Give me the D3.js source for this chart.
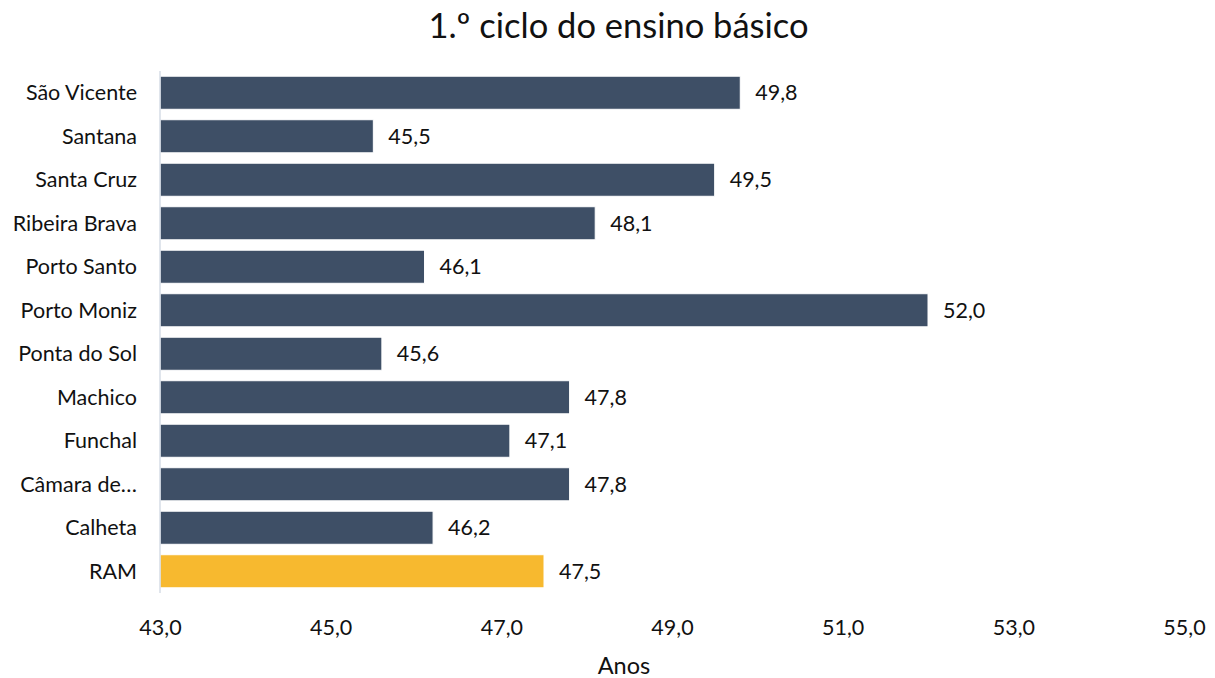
<!DOCTYPE html>
<html lang="pt">
<head>
<meta charset="UTF-8">
<title>1.º ciclo do ensino básico</title>
<script src="https://d3js.org/d3.v7.min.js"></script>
<style>
  body { margin: 0; background: #fff; }
  svg { font-family: Lato, "Open Sans", sans-serif; }
</style>
</head>
<body>
<svg id="chart" width="1215" height="678"></svg>
<script>
// data (top to bottom)
const municipios = ["São Vicente", "Santana", "Santa Cruz", "Ribeira Brava", "Porto Santo",
  "Porto Moniz", "Ponta do Sol", "Machico", "Funchal", "Câmara de…", "Calheta", "RAM"];
const idades = [49.8, 45.5, 49.5, 48.1, 46.1, 52.0, 45.6, 47.8, 47.1, 47.8, 46.2, 47.5];
const xTicks = [43, 45, 47, 49, 51, 53, 55];

const width = 1215, height = 678;
const margin = {left: 160, right: 31, top: 71, bottom: 85};
const fs = 21.5;

const svg = d3.select("#chart");
const fmt = d => d.toFixed(1).replace(".", ",");

const x = d3.scaleLinear().domain([43, 55]).range([margin.left, width - margin.right]);
const y = d3.scaleBand().domain(municipios).range([margin.top, height - margin.bottom]).paddingInner(0.24).paddingOuter(0.12);

svg.append("text")
  .attr("x", width / 2 + 11).attr("y", 38)
  .attr("text-anchor", "middle")
  .attr("font-size", 34.5)
  .attr("fill", "#111")
  .text("1.º ciclo do ensino básico");

// bars
svg.append("g")
  .selectAll("rect")
  .data(idades)
  .join("rect")
  .attr("x", x(43))
  .attr("y", (d, i) => y(municipios[i]))
  .attr("width", d => x(d) - x(43))
  .attr("height", y.bandwidth())
  .attr("fill", (d, i) => municipios[i] === "RAM" ? "#f7b92f" : "#3e4f66")
  .attr("stroke", "#fff")
  .attr("stroke-width", 1);

// left axis line
svg.append("line")
  .attr("x1", margin.left).attr("x2", margin.left)
  .attr("y1", margin.top).attr("y2", height - margin.bottom)
  .attr("stroke", "#d6dce6").attr("stroke-width", 1.5);

// category labels
svg.append("g")
  .selectAll("text")
  .data(municipios)
  .join("text")
  .attr("x", 137)
  .attr("y", d => y(d) + y.bandwidth() / 2)
  .attr("dy", "0.35em")
  .attr("text-anchor", "end")
  .attr("font-size", fs)
  .attr("fill", "#111")
  .text(d => d);

// value labels
svg.append("g")
  .selectAll("text")
  .data(idades)
  .join("text")
  .attr("x", d => x(d) + 15)
  .attr("y", (d, i) => y(municipios[i]) + y.bandwidth() / 2)
  .attr("dy", "0.35em")
  .attr("font-size", fs)
  .attr("fill", "#111")
  .text(fmt);

// x axis
const xAxis = d3.axisBottom(x).tickValues(xTicks).tickFormat(fmt).tickSize(0).tickPadding(0);
const gx = svg.append("g")
  .attr("transform", `translate(0,${627})`)
  .call(xAxis);
gx.select(".domain").remove();
gx.selectAll("text")
  .attr("font-family", "Lato, 'Open Sans', sans-serif")
  .attr("font-size", fs)
  .attr("fill", "#111")
  .attr("dy", "0.35em");

svg.append("text")
  .attr("x", 624).attr("y", 674)
  .attr("text-anchor", "middle")
  .attr("font-size", 23.5)
  .attr("fill", "#111")
  .text("Anos");
</script>
</body>
</html>
